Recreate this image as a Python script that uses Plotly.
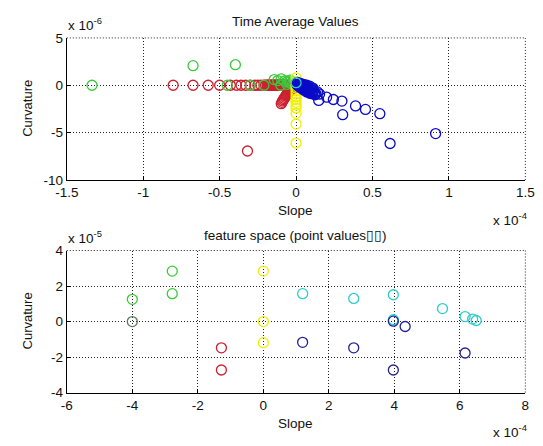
import plotly.graph_objects as go

# ---------------- Top panel: Time Average Values (x in 1e-4, y in 1e-6) ----------------
top_red_x = [-0.804, -0.674, -0.575, -0.50, -0.43, -0.39, -0.36, -0.33, -0.30, -0.27, -0.25,
             -0.23, -0.21, -0.20, -0.19, -0.185, -0.18, -0.175, -0.17, -0.165, -0.16, -0.155,
             -0.15, -0.145, -0.14, -0.135, -0.13, -0.125, -0.12, -0.115, -0.11, -0.105, -0.10,
             -0.095, -0.09, -0.085, -0.08, -0.075, -0.07,
             -0.097, -0.092, -0.088, -0.083, -0.078, -0.073, -0.068, -0.063, -0.058, -0.053,
             -0.048, -0.043, -0.038, -0.033, -0.028, -0.023, -0.018, -0.013,
             -0.318]
top_red_y = [0, 0, 0, 0, 0, 0, 0, 0, 0, 0, 0,
             0, 0, 0, 0, 0, 0, 0, 0, 0, 0, 0,
             0, 0, 0, 0, 0, 0, 0, 0, 0, 0, 0,
             0, 0, 0, 0, 0, 0,
             -1.94, -1.8, -1.65, -1.52, -1.4, -1.27, -1.15, -1.03, -0.92, -0.82,
             -0.72, -0.62, -0.52, -0.44, -0.36, -0.28, -0.2, -0.12,
             -6.94]

top_green_x = [-1.335, -0.674, -0.397, -0.45, -0.30, -0.21, -0.10, -0.143, -0.12, -0.097,
               -0.075, -0.055, -0.045, -0.035, -0.025, -0.015, -0.06, -0.04]
top_green_y = [0, 2.07, 2.17, 0, 0, 0, 0, 0.6, 0.5, 0.68,
               0.45, 0.44, 0.3, 0.2, 0.1, 0.05, 0.1, 0.55]

top_yellow_x = [0, 0, 0, 0, 0, 0, 0, 0, 0, 0, 0, 0, 0, 0]
top_yellow_y = [0.79, 0.4, 0, -0.3, -0.6, -0.9, -1.2, -1.5, -1.8, -2.1, -2.4, -2.96, -4.1, -6.1]

top_blue_x = [0.005, 0.01, 0.02, 0.03, 0.04, 0.05, 0.06, 0.07, 0.08, 0.09, 0.10, 0.11, 0.12,
              0.13, 0.02, 0.04, 0.06, 0.08, 0.10, 0.03, 0.05, 0.07, 0.09, 0.015, 0.025,
              0.035, 0.045, 0.055, 0.065, 0.075, 0.085, 0.095, 0.105, 0.115, 0.125,
              0.01, 0.03, 0.05, 0.07, 0.09, 0.11, 0.14,
              0.154, 0.148, 0.20, 0.244, 0.30, 0.305, 0.389, 0.454, 0.548, 0.615, 0.913]
top_blue_y = [0.1, -0.02, -0.05, -0.1, -0.2, -0.25, -0.35, -0.45, -0.5, -0.6, -0.7, -0.75, -0.85,
              -0.9, 0.15, 0.0, -0.1, -0.2, -0.3, -0.3, -0.5, -0.7, -0.85, 0.05, -0.15,
              -0.05, -0.35, -0.15, -0.55, -0.25, -0.75, -0.4, -0.9, -0.55, -1.0,
              0.3, 0.2, 0.1, 0.0, -0.1, -0.3, -0.7,
              -0.92, -1.6, -1.26, -1.5, -1.67, -3.1, -2.18, -2.55, -3.0, -6.15, -5.1]

top_cyan_x = [0.0]
top_cyan_y = [0.27]

# ---------------- Bottom panel: feature space (x in 1e-4, y in 1e-5) ----------------
bot_green_x = [-4.0, -4.0, -2.78, -2.78]
bot_green_y = [1.25, 0.0, 2.84, 1.57]

bot_red_x = [-1.28, -1.28]
bot_red_y = [-1.48, -2.73]

bot_yellow_x = [0.0, 0.0, 0.0]
bot_yellow_y = [2.84, 0.0, -1.19]

bot_cyan_x = [1.2, 2.76, 3.97, 5.47, 6.16, 6.39, 6.5, 3.97]
bot_cyan_y = [1.57, 1.3, 1.51, 0.73, 0.28, 0.14, 0.06, 0.1]

bot_blue_x = [1.2, 2.76, 3.97, 4.33, 6.16, 3.97]
bot_blue_y = [-1.17, -1.48, 0.02, -0.28, -1.77, -2.73]

top_xticks = [-1.5, -1, -0.5, 0, 0.5, 1, 1.5]
top_yticks = [-10, -5, 0, 5]
bot_xticks = [-6, -4, -2, 0, 2, 4, 6, 8]
bot_yticks = [-4, -2, 0, 2, 4]

RED = "#cc2030"
GREEN = "#3cc83c"
YELLOW = "#f0f000"
BLUE = "#0a0ac8"
CYAN = "#30cccc"
BLUE2 = "#22229a"
GREEN_DARK = "#5a7a5a"

FONT = "Liberation Sans, Arial, sans-serif"

fig = go.Figure()


def add(xs, ys, color, xa, ya):
    fig.add_trace(go.Scatter(
        x=xs, y=ys, mode="markers", xaxis=xa, yaxis=ya, showlegend=False,
        marker=dict(symbol="circle-open", size=10, color=color, line=dict(width=1.3, color=color)),
        cliponaxis=False))


add(top_red_x, top_red_y, RED, "x", "y")
add(top_green_x, top_green_y, GREEN, "x", "y")
add(top_yellow_x, top_yellow_y, YELLOW, "x", "y")
add(top_blue_x, top_blue_y, BLUE, "x", "y")
add(top_cyan_x, top_cyan_y, CYAN, "x", "y")

add(bot_green_x, bot_green_y, [GREEN, GREEN_DARK, GREEN, GREEN], "x2", "y2")
add(bot_red_x, bot_red_y, RED, "x2", "y2")
add(bot_yellow_x, bot_yellow_y, YELLOW, "x2", "y2")
add(bot_cyan_x, bot_cyan_y, CYAN, "x2", "y2")
add(bot_blue_x, bot_blue_y, BLUE2, "x2", "y2")

W, H = 543, 446
L, R = 57, 534
T1, B1 = 32, 179
T2, B2 = 252, 399


def fx(px):
    return px / W


def fy(py):
    return 1 - py / H


DOT = "1px,2px"
axis_common = dict(
    showgrid=True, gridcolor="#222222", griddash=DOT, gridwidth=1,
    zeroline=False, showline=True, linecolor="#000000", linewidth=1,
    ticks="inside", ticklen=4, tickcolor="#000000",
    tickfont=dict(family=FONT, size=13.5, color="#111111"), mirror=False,
)

fig.update_layout(
    width=W, height=H, margin=dict(l=0, r=0, t=0, b=0),
    paper_bgcolor="white", plot_bgcolor="white",
    xaxis=dict(domain=[fx(L), fx(R)], range=[-1.5, 1.5], tickvals=top_xticks,
               ticktext=[f"{v:g}" for v in top_xticks], anchor="y", **axis_common),
    yaxis=dict(domain=[fy(B1), fy(T1)], range=[-10, 5], tickvals=top_yticks,
               ticktext=[f"{v:g}" for v in top_yticks], anchor="x", **axis_common),
    xaxis2=dict(domain=[fx(L), fx(R)], range=[-6, 8], tickvals=bot_xticks,
                ticktext=[f"{v:g}" for v in bot_xticks], anchor="y2", **axis_common),
    yaxis2=dict(domain=[fy(B2), fy(T2)], range=[-4, 4], tickvals=bot_yticks,
                ticktext=[f"{v:g}" for v in bot_yticks], anchor="x2", **axis_common),
)

# dotted box edges (top/right)
for (x0, y0, x1, y1) in [(L, T1, R, T1), (R, T1, R, B1), (L, T2, R, T2), (R, T2, R, B2)]:
    fig.add_shape(type="line", xref="paper", yref="paper",
                  x0=fx(x0), y0=fy(y0), x1=fx(x1), y1=fy(y1),
                  line=dict(color="#222222", width=1, dash=DOT))


def ann(text, px, py, size=13.5, angle=0, xanchor="center", yanchor="middle"):
    fig.add_annotation(text=text, xref="paper", yref="paper", x=fx(px), y=fy(py),
                       showarrow=False, textangle=angle, xanchor=xanchor, yanchor=yanchor,
                       font=dict(family=FONT, size=size, color="#111111"))


ann("Time Average Values", 295, 15, size=13.5)
ann("feature space (point values\u25af\u25af)", 295, 236, size=13.5)
ann("Slope", 295, 211)
ann("Slope", 295, 431)
ann("Curvature", 16, 105, size=13, angle=-90)
ann("Curvature", 16, 325, size=13, angle=-90)
ann("x 10<sup>-6</sup>", 56, 18, xanchor="left")
ann("x 10<sup>-5</sup>", 56, 238, xanchor="left")
ann("x 10<sup>-4</sup>", 538, 219, xanchor="right")
ann("x 10<sup>-4</sup>", 538, 439, xanchor="right")

fig.write_html("out.html")
